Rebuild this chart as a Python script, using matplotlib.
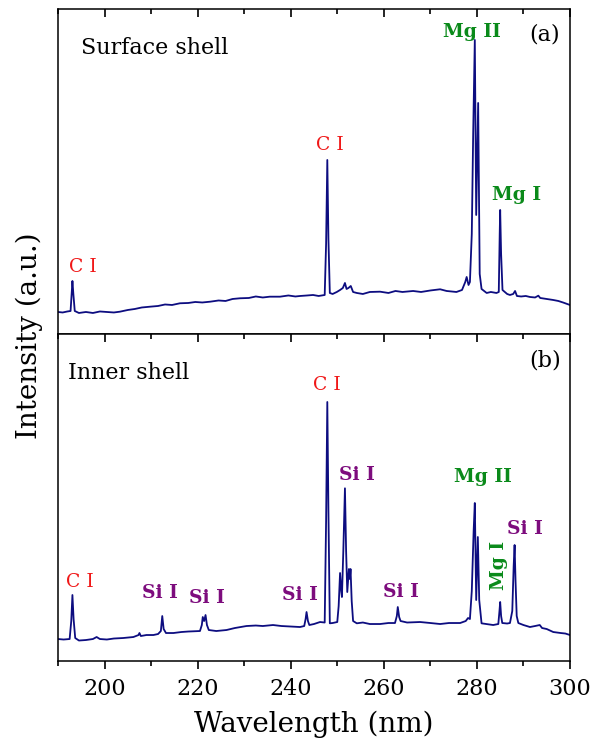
"""
LIBS emission spectra of the surface shell (a) and inner shell (b),
190-300 nm, with C I / Si I / Mg I / Mg II lines labelled.
"""

import matplotlib
matplotlib.use('Agg')
import matplotlib.pyplot as plt
from matplotlib.ticker import MultipleLocator
from matplotlib.lines import TICKDOWN

plt.rcParams['font.family'] = ['DejaVu Serif']

# ── Data (intensity in a.u.) ─────────────────────────────────────

surface_wl = [
    190.0, 191.0, 192.0, 192.7, 193.0, 193.1, 193.3, 193.6, 194.5, 196.0,
    197.5, 199.0, 200.5, 202.0, 203.3, 205.0, 206.5, 208.0, 209.8, 211.5,
    213.0, 214.5, 216.2, 218.0, 219.5, 221.0, 222.7, 224.5, 226.0, 227.5,
    229.1, 231.0, 232.5, 234.0, 235.5, 237.7, 239.5, 241.0, 242.0, 243.5,
    244.8, 246.0, 247.3, 247.6, 247.86, 248.1, 248.4, 249.0, 249.9, 250.6,
    251.2, 251.65, 252.0, 252.4, 252.9, 253.4, 254.2, 255.5, 257.0, 259.2,
    261.0, 262.5, 264.0, 266.3, 268.0, 270.0, 272.1, 273.5, 275.6, 276.8,
    277.5, 277.8, 278.2, 278.5, 278.9, 279.2, 279.55, 279.85, 280.27, 280.6,
    281.0, 282.1, 283.0, 284.2, 284.7, 284.9, 285.0, 285.2, 285.5, 286.5,
    287.1, 287.8, 288.2, 288.6, 289.5, 290.5, 291.4, 292.5, 293.2, 293.6,
    295.0, 296.4, 297.5, 298.5, 300.0,
]
surface_int = [
    22, 21.5, 22.5, 23, 45, 53, 40, 23, 21, 22,
    21, 22.5, 22, 21.5, 22.3, 24, 25, 26.5, 27.3, 28,
    29.5, 29, 30.7, 31, 32, 31.5, 32.3, 33.5, 33, 35,
    35.7, 36, 37.5, 36.5, 37.3, 37.3, 38.5, 37.5, 38, 38.5,
    39, 38, 39, 90, 174, 95, 41, 40, 42, 44,
    46, 51, 45, 46, 48, 42, 41, 40, 42, 42.3,
    41, 43, 42, 43, 42, 43.5, 44.7, 43, 42, 44,
    52, 57, 49, 52, 100, 200, 294, 119, 231, 60,
    45, 41, 42, 41, 42, 100, 124, 80, 44, 40,
    39, 40, 43, 38, 37.5, 38, 37, 36.5, 38.3, 36,
    35, 34, 33, 31.5, 29,
]

inner_wl = [
    190.0, 191.2, 192.5, 192.85, 193.1, 193.35, 193.7, 194.5, 196.0, 197.5,
    198.3, 199.0, 200.5, 202.0, 204.0, 206.2, 207.3, 207.5, 207.8, 209.0,
    210.5, 211.5, 212.1, 212.4, 212.7, 213.2, 214.8, 216.5, 218.0, 220.5,
    220.9, 221.1, 221.4, 221.7, 222.0, 222.4, 224.0, 226.2, 228.0, 230.5,
    232.5, 234.0, 236.2, 238.0, 240.0, 242.0, 242.9, 243.2, 243.4, 243.7,
    244.0, 245.0, 246.3, 247.3, 247.6, 247.86, 248.1, 248.4, 249.0, 250.0,
    250.3, 250.6, 250.85, 251.0, 251.3, 251.65, 251.9, 252.15, 252.5, 252.7,
    252.85, 253.1, 253.4, 254.2, 255.5, 257.0, 259.2, 261.0, 262.4, 262.8,
    263.0, 263.3, 263.6, 265.0, 267.8, 270.0, 272.1, 274.0, 276.4, 277.6,
    278.1, 278.5, 278.9, 279.3, 279.55, 279.85, 280.2, 280.5, 281.0, 282.0,
    283.5, 284.6, 284.85, 285.0, 285.2, 285.45, 286.5, 287.1, 287.6, 287.9,
    288.1, 288.3, 288.55, 288.9, 290.0, 291.4, 292.5, 293.5, 294.0, 295.0,
    296.4, 298.0, 299.0, 300.0,
]
inner_int = [
    22, 21.5, 22, 40, 66, 42, 23, 20.5, 21, 22,
    24, 22, 21.5, 22.5, 23, 24, 26, 28, 25, 26,
    26, 27, 30, 45, 32, 28, 28, 29, 29.5, 30,
    36, 44, 40, 46, 36, 31, 30, 31, 33, 35,
    35.5, 35, 36, 35, 34.5, 34, 35, 42, 49, 40,
    36, 37, 39, 38.5, 140, 259, 150, 37.7, 38, 39,
    55, 88, 70, 64, 110, 172.7, 110, 69, 92, 82,
    92, 60, 40, 37.7, 38.5, 37, 37, 38, 38, 45,
    54, 44, 40, 38.5, 39, 38, 37, 38, 38, 40,
    43, 42, 70, 130, 158, 61, 124, 61, 37.7, 37,
    36, 37, 50, 59, 45, 38, 37.5, 38, 50, 95,
    116, 80, 45, 38, 36, 34, 35, 36, 33, 32,
    29, 28, 27.5, 26,
]

# ── Style ─────────────────────────────────────────────────────────

LINE_COLOR = '#0d0d80'
C_COLOR = '#f01818'
SI_COLOR = '#7d0c7d'
MG_COLOR = '#0a8a1a'
LABEL_FS = 13.5

fig = plt.figure(figsize=(5.93, 7.47), dpi=100)
ax_top = fig.add_axes([0.0978, 0.5529, 0.8634, 0.4351])
ax_bot = fig.add_axes([0.0978, 0.1151, 0.8634, 0.4378])

ax_top.plot(surface_wl, surface_int, color=LINE_COLOR, lw=1.3)
ax_bot.plot(inner_wl, inner_int, color=LINE_COLOR, lw=1.3)
ax_top.set_ylim(0, 325)
ax_bot.set_ylim(0, 327)

for ax in (ax_top, ax_bot):
    ax.set_xlim(190, 300)
    ax.set_yticks([])
    for sp in ax.spines.values():
        sp.set_linewidth(1.1)
    ax.xaxis.set_major_locator(MultipleLocator(20))
    ax.xaxis.set_minor_locator(MultipleLocator(10))
    # inward ticks along the top edge of every panel
    ax.tick_params(axis='x', which='both', direction='in', top=True,
                   labeltop=False, width=1.2)
    ax.tick_params(axis='x', which='major', length=6)
    ax.tick_params(axis='x', which='minor', length=3.5)

ax_top.tick_params(axis='x', which='both', bottom=False, labelbottom=False)
ax_bot.tick_params(axis='x', which='major', labelsize=16, pad=12)

ax_bot.set_xlabel('Wavelength (nm)', fontsize=20, labelpad=8)
fig.text(29 / 593, 1 - 336 / 747, 'Intensity (a.u.)', rotation=90,
         ha='center', va='center', fontsize=20)

# ── Panel annotations ────────────────────────────────────────────

ax_top.text(0.045, 0.88, 'Surface shell', transform=ax_top.transAxes,
            fontsize=16, va='center', ha='left')
ax_top.text(0.951, 0.92, '(a)', transform=ax_top.transAxes,
            fontsize=16, va='center', ha='center')
ax_bot.text(0.02, 0.88, 'Inner shell', transform=ax_bot.transAxes,
            fontsize=16, va='center', ha='left')
ax_bot.text(0.952, 0.92, '(b)', transform=ax_bot.transAxes,
            fontsize=16, va='center', ha='center')


def line_label(ax, x, y, s, color, bold=True, rot=0):
    ax.text(x, y, s, color=color, fontsize=LABEL_FS, ha='center', va='center',
            fontweight='bold' if bold else 'normal', rotation=rot, zorder=1)


line_label(ax_top, 195.4, 67, 'C I', C_COLOR, bold=False)
line_label(ax_top, 248.4, 189, 'C I', C_COLOR, bold=False)
line_label(ax_top, 278.9, 302, 'Mg II', MG_COLOR)
line_label(ax_top, 288.6, 139, 'Mg I', MG_COLOR)

line_label(ax_bot, 194.7, 79, 'C I', C_COLOR, bold=False)
line_label(ax_bot, 211.9, 68, 'Si I', SI_COLOR)
line_label(ax_bot, 222.0, 63, 'Si I', SI_COLOR)
line_label(ax_bot, 242.0, 66, 'Si I', SI_COLOR)
line_label(ax_bot, 247.8, 276, 'C I', C_COLOR, bold=False)
line_label(ax_bot, 254.2, 186, 'Si I', SI_COLOR)
line_label(ax_bot, 263.6, 69, 'Si I', SI_COLOR)
line_label(ax_bot, 281.2, 184, 'Mg II', MG_COLOR)
line_label(ax_bot, 284.7, 96, 'Mg I', MG_COLOR, rot=90)
line_label(ax_bot, 290.3, 132, 'Si I', SI_COLOR)

# lower edge of panel (b): flip its ticks so they hang outside the frame
fig.canvas.draw()
for t in ax_bot.xaxis.get_major_ticks() + ax_bot.xaxis.get_minor_ticks():
    t.tick1line.set_marker(TICKDOWN)

fig.savefig('out.png', dpi=100, facecolor='white')
